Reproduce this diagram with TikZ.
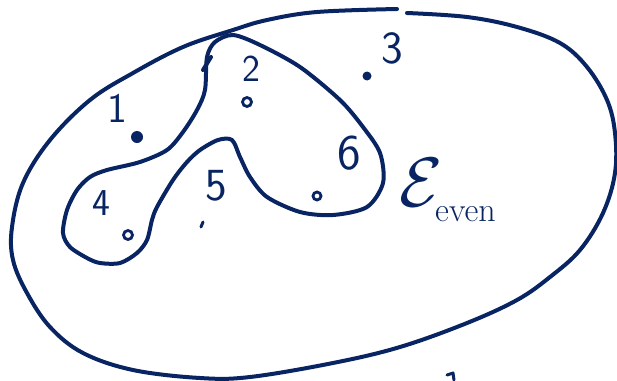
\documentclass[tikz,border=0pt]{standalone}
\usepackage{fix-cm}
\usepackage{fontspec}
\definecolor{ink}{RGB}{8,36,98}
\begin{document}
\begin{tikzpicture}[x=1pt,y=-1pt,
  stroke/.style={draw=ink,line width=4pt,line cap=round,line join=round},
  hollowdot/.style={circle,draw=ink,line width=2.8pt,inner sep=0pt,minimum size=9pt},
  fulldot/.style={circle,fill=ink,inner sep=0pt,minimum size=12pt},
  lbl/.style={text=ink,inner sep=0pt}]
\useasboundingbox (0,0) rectangle (617,380);
% outer set
\draw[stroke] plot[smooth,tension=0.6] coordinates {(407,13) (467,17) (517,27) (560,43) (587,67) (607,100) (615,133) (615,173) (603,213) (580,250) (550,277) (517,300) (467,323) (400,347) (333,363) (250,377) (200,378) (133,370) (83,353) (50,327) (27,293) (13,260) (12,227) (23,183) (50,140) (90,100) (133,73) (183,47) (233,30) (267,20) (317,12) (397,9)};
% even blob
\draw[stroke] plot[smooth cycle,tension=0.5] coordinates {(233,35) (215,42) (207,57) (205,90) (197,110) (183,132) (167,150) (140,162) (107,170) (90,177) (77,190) (67,210) (63,233) (70,247) (87,258) (100,263) (120,263) (137,253) (147,240) (152,220) (157,207) (173,180) (187,162) (200,150) (218,140) (232,140) (240,157) (250,177) (267,197) (300,212) (333,215) (367,207) (383,183) (380,153) (363,127) (340,100) (300,67) (260,45)};
\draw[stroke] (203,70) -- (211,57);
% points
\node[fulldot] (p1) at (137,137) {};
\node[hollowdot] (p2) at (247,102) {};
\node[fulldot,minimum size=9pt] (p3) at (367,76) {};
\node[hollowdot] (p4) at (128,235) {};
\draw[stroke,line width=3pt] (201,227) -- (203,222);
\node[hollowdot,minimum size=8pt] (p6) at (317,196) {};
% labels
\node[lbl,font=\sffamily\fontsize{42}{46}\selectfont] (l1) at (117,108) {1};
\node[lbl,font=\sffamily\fontsize{38}{42}\selectfont] (l2) at (251,69) {2};
\node[lbl,font=\sffamily\fontsize{46}{50}\selectfont] (l3) at (392,48) {3};
\node[lbl,font=\sffamily\fontsize{38}{42}\selectfont] (l4) at (101,203) {4};
\node[lbl,font=\sffamily\fontsize{46}{50}\selectfont] (l5) at (216,186) {5};
\node[lbl,font=\sffamily\fontsize{50}{54}\selectfont] (l6) at (349,153) {6};
\node[lbl,font=\fontsize{70}{74}\selectfont] (E) at (421,183) {$\mathcal{E}$};
\node[lbl,font=\fontsize{34}{38}\selectfont,anchor=base west] (even) at (435,221) {even};
% bottom mark
\draw[stroke,line width=3pt] (447,375) -- (453,373) -- (454,380);
\end{tikzpicture}
\end{document}
